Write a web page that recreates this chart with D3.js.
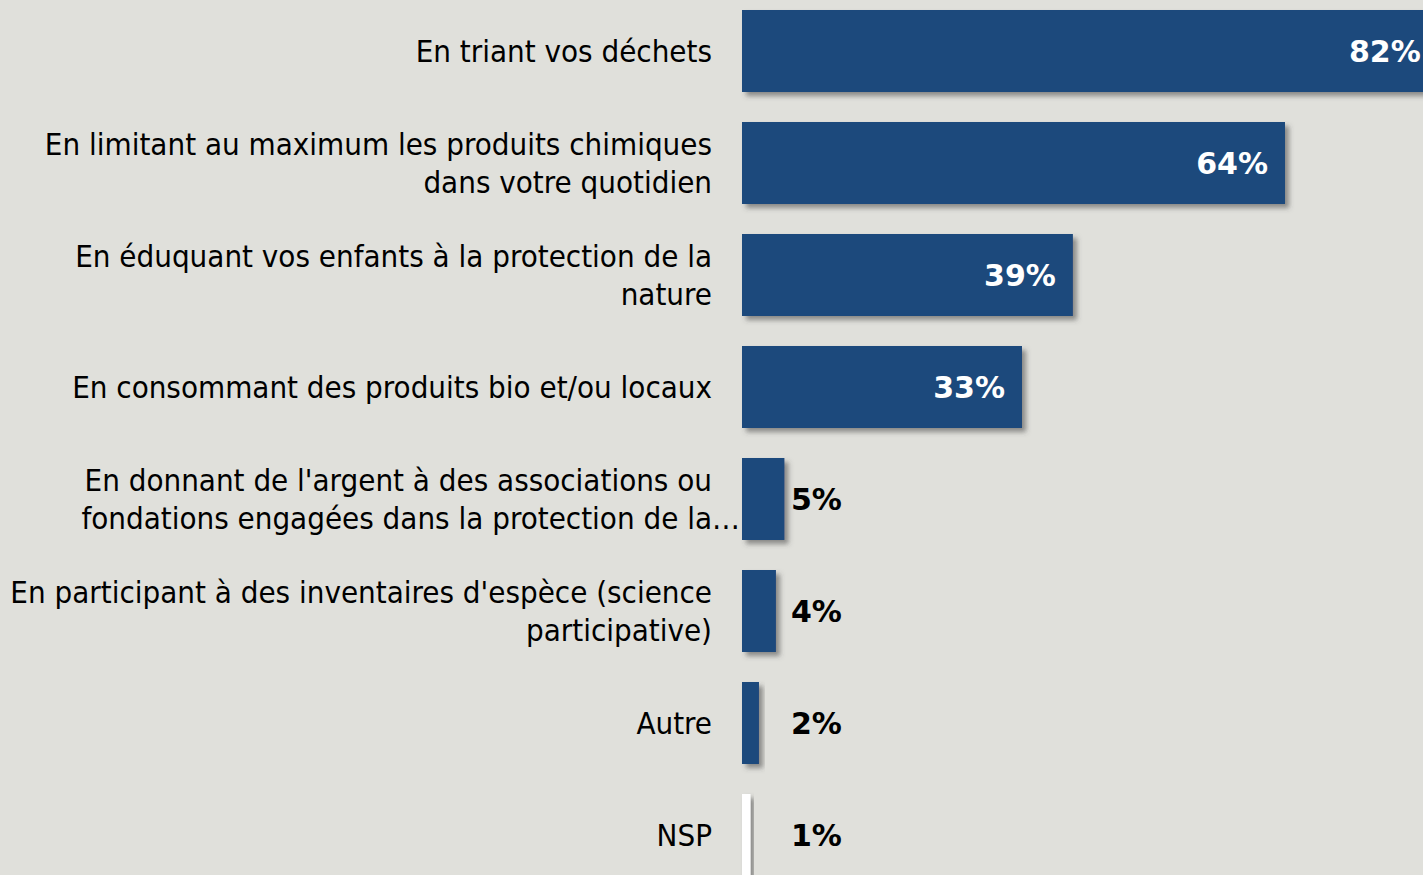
<!DOCTYPE html>
<html>
<head>
<meta charset="utf-8">
<script src="https://cdn.jsdelivr.net/npm/d3@7"></script>
<style>
  body { margin: 0; background: #e0e0db; overflow: hidden; }
</style>
</head>
<body>
<div id="my_dataviz"></div>
<script>
// categories (already wrapped the way the original shows them)
var categories = [
  ["En triant vos déchets"],
  ["En limitant au maximum les produits chimiques", "dans votre quotidien"],
  ["En éduquant vos enfants à la protection de la", "nature"],
  ["En consommant des produits bio et/ou locaux"],
  ["En donnant de l'argent à des associations ou", "fondations engagées dans la protection de la"],
  ["En participant à des inventaires d'espèce (science", "participative)"],
  ["Autre"],
  ["NSP"]
];
// label cut short in the original
var truncated = [false, false, false, false, true, false, false, false];
var values = [82, 64, 39, 33, 5, 4, 2, 1];
var barColors = ["#1f487c", "#1f487c", "#1f487c", "#1f487c", "#1f487c", "#1f487c", "#1f487c", "#ffffff"];

var width = 1423, height = 875;
var margin = {top: 10, left: 742};

var svg = d3.select("#my_dataviz")
  .append("svg")
  .attr("width", width)
  .attr("height", height);

svg.append("rect").attr("width", width).attr("height", height).attr("fill", "#e0e0db");

// drop shadow under the bars
var filter = svg.append("defs").append("filter")
  .attr("id", "shadow")
  .attr("x", "-20%").attr("y", "-20%")
  .attr("width", "150%").attr("height", "150%");
filter.append("feDropShadow")
  .attr("dx", 4).attr("dy", 4)
  .attr("stdDeviation", 2.5)
  .attr("flood-color", "#444")
  .attr("flood-opacity", 0.55);

var idx = d3.range(values.length);

var x = d3.scaleLinear()
  .domain([0, 64])
  .range([margin.left, 1285]);

var y = d3.scaleBand()
  .domain(idx)
  .range([margin.top, margin.top + 112 * values.length - 30])
  .paddingInner(30 / 112)
  .paddingOuter(0);

// bars
svg.append("g")
  .selectAll("rect")
  .data(idx)
  .enter()
  .append("rect")
  .attr("x", x(0))
  .attr("y", function (i) { return y(i); })
  .attr("width", function (i) { return x(values[i]) - x(0); })
  .attr("height", y.bandwidth())
  .attr("fill", function (i) { return barColors[i]; })
  .attr("filter", "url(#shadow)");

// category labels
var labelX = 712;
var lineH = 38;
var labels = svg.append("g")
  .style("font-family", "'DejaVu Sans Condensed', 'DejaVu Sans', sans-serif")
  .style("font-stretch", "condensed")
  .style("font-size", "31px")
  .attr("fill", "#000");

idx.forEach(function (i) {
  var lines = categories[i];
  var cy = y(i) + y.bandwidth() / 2;
  var t = labels.append("text")
    .attr("text-anchor", "end")
    .attr("dominant-baseline", "central");
  lines.forEach(function (l, k) {
    t.append("tspan")
      .attr("x", labelX)
      .attr("y", cy + (k - (lines.length - 1) / 2) * lineH)
      .text(l);
  });
  if (truncated[i]) {
    labels.append("text")
      .attr("x", labelX)
      .attr("y", cy + ((lines.length - 1) / 2) * lineH)
      .attr("dominant-baseline", "central")
      .text("…");
  }
});

// value labels: white inside long bars, black outside short ones
svg.append("g")
  .style("font-family", "'DejaVu Sans', sans-serif")
  .style("font-weight", "bold")
  .style("font-size", "30px")
  .selectAll("text")
  .data(idx)
  .enter()
  .append("text")
  .attr("dominant-baseline", "central")
  .attr("y", function (i) { return y(i) + y.bandwidth() / 2; })
  .attr("x", function (i) {
    return values[i] > 20 ? x(values[i]) - 17 : x(0) + 49;
  })
  .attr("text-anchor", function (i) { return values[i] > 20 ? "end" : "start"; })
  .attr("fill", function (i) { return values[i] > 20 ? "#fff" : "#000"; })
  .text(function (i) { return values[i] + "%"; });
</script>
</body>
</html>
